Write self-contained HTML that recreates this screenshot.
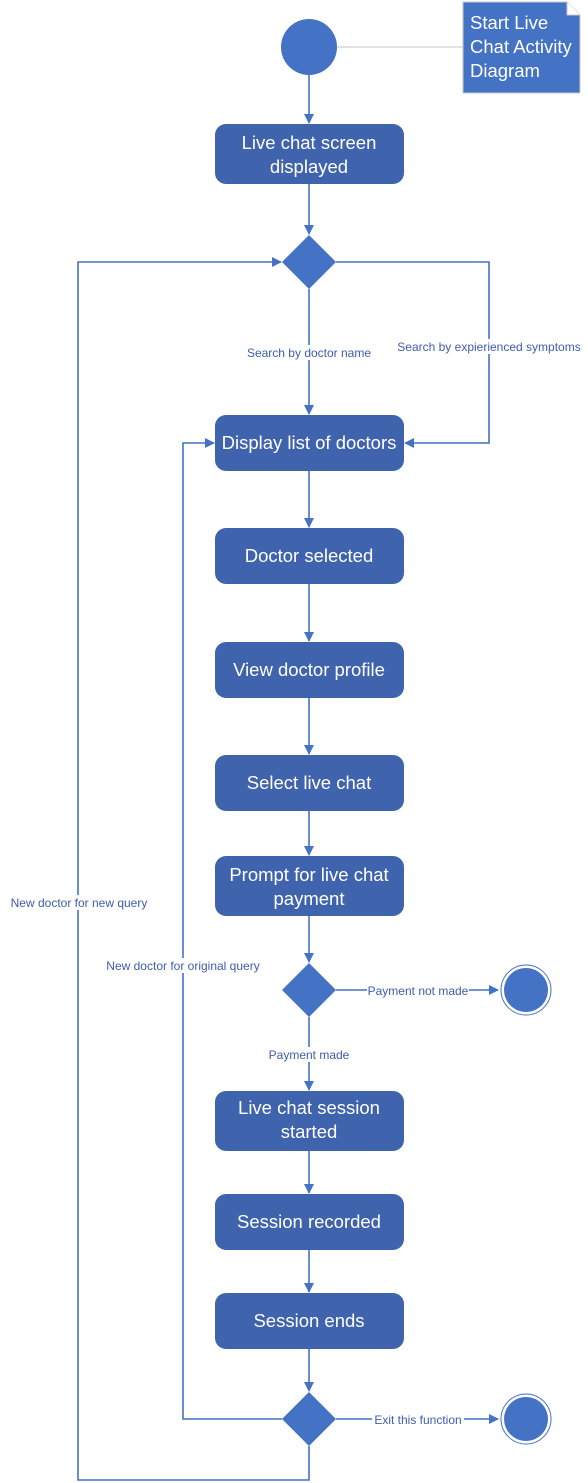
<!DOCTYPE html>
<html><head><meta charset="utf-8"><style>
html,body{margin:0;padding:0;background:#fff;}
svg{display:block;}
.b{fill:#3f63ad;}
.t{font-family:"Liberation Sans",sans-serif;font-size:18.5px;fill:#fff;text-anchor:middle;}
.l{font-family:"Liberation Sans",sans-serif;font-size:12px;fill:#3f5cb0;text-anchor:middle;}
.ln{stroke:#4472c4;stroke-width:1.6;fill:none;}
</style></head><body>
<svg width="588" height="1483" viewBox="0 0 588 1483" xmlns="http://www.w3.org/2000/svg">
<defs><marker id="a" markerWidth="10" markerHeight="10" refX="9" refY="5" orient="auto" markerUnits="userSpaceOnUse"><path d="M0,0 L10,5 L0,10 z" fill="#4472c4"/></marker></defs>
<line x1="337" y1="47" x2="463" y2="47" stroke="#d0d0d0" stroke-width="1.2"/>
<path d="M463,2 L567,2 L580,15 L580,93 L463,93 z" fill="#4472c4" stroke="#c8c8c8"/>
<path d="M567,2 L567,15 L580,15" fill="#fff" stroke="#c8c8c8"/>
<text x="470" y="29" font-family="Liberation Sans,sans-serif" font-size="18.5" fill="#fff">Start Live</text>
<text x="470" y="53" font-family="Liberation Sans,sans-serif" font-size="18.5" fill="#fff">Chat Activity</text>
<text x="470" y="77" font-family="Liberation Sans,sans-serif" font-size="18.5" fill="#fff">Diagram</text>
<circle cx="309" cy="47" r="28" fill="#4472c4"/>
<line class="ln" x1="309" y1="75" x2="309" y2="123" marker-end="url(#a)"/>
<line class="ln" x1="309" y1="184" x2="309" y2="234" marker-end="url(#a)"/>
<line class="ln" x1="309" y1="289" x2="309" y2="414" marker-end="url(#a)"/>
<polyline class="ln" points="336,262 489,262 489,443 405,443" marker-end="url(#a)"/>
<line class="ln" x1="309" y1="471" x2="309" y2="527" marker-end="url(#a)"/>
<line class="ln" x1="309" y1="584" x2="309" y2="641" marker-end="url(#a)"/>
<line class="ln" x1="309" y1="698" x2="309" y2="754" marker-end="url(#a)"/>
<line class="ln" x1="309" y1="811" x2="309" y2="855" marker-end="url(#a)"/>
<line class="ln" x1="309" y1="916" x2="309" y2="962" marker-end="url(#a)"/>
<line class="ln" x1="336" y1="990" x2="498" y2="990" marker-end="url(#a)"/>
<line class="ln" x1="309" y1="1017" x2="309" y2="1090" marker-end="url(#a)"/>
<line class="ln" x1="309" y1="1151" x2="309" y2="1193" marker-end="url(#a)"/>
<line class="ln" x1="309" y1="1250" x2="309" y2="1292" marker-end="url(#a)"/>
<line class="ln" x1="309" y1="1349" x2="309" y2="1391" marker-end="url(#a)"/>
<line class="ln" x1="336" y1="1419" x2="498" y2="1419" marker-end="url(#a)"/>
<polyline class="ln" points="282,1419 183,1419 183,443 214,443" marker-end="url(#a)"/>
<polyline class="ln" points="309,1446 309,1480 78,1480 78,262 281,262" marker-end="url(#a)"/>
<rect class="b" x="215" y="124" width="189" height="60" rx="11"/>
<text class="t" x="309" y="149">Live chat screen</text><text class="t" x="309" y="173">displayed</text>
<rect class="b" x="215" y="415" width="189" height="56" rx="11"/>
<text class="t" x="309" y="449">Display list of doctors</text>
<rect class="b" x="215" y="528" width="189" height="56" rx="11"/>
<text class="t" x="309" y="562">Doctor selected</text>
<rect class="b" x="215" y="642" width="189" height="56" rx="11"/>
<text class="t" x="309" y="676">View doctor profile</text>
<rect class="b" x="215" y="755" width="189" height="56" rx="11"/>
<text class="t" x="309" y="789">Select live chat</text>
<rect class="b" x="215" y="856" width="189" height="60" rx="11"/>
<text class="t" x="309" y="881">Prompt for live chat</text><text class="t" x="309" y="905">payment</text>
<rect class="b" x="215" y="1091" width="189" height="60" rx="11"/>
<text class="t" x="309" y="1114">Live chat session</text><text class="t" x="309" y="1138">started</text>
<rect class="b" x="215" y="1194" width="189" height="56" rx="11"/>
<text class="t" x="309" y="1228">Session recorded</text>
<rect class="b" x="215" y="1293" width="189" height="56" rx="11"/>
<text class="t" x="309" y="1327">Session ends</text>
<path d="M309,235 L336,262 L309,289 L282,262 z" fill="#4472c4"/>
<path d="M309,963 L336,990 L309,1017 L282,990 z" fill="#4472c4"/>
<path d="M309,1392 L336,1419 L309,1446 L282,1419 z" fill="#4472c4"/>
<circle cx="526" cy="990" r="25" fill="#fff" stroke="#4472c4" stroke-width="1"/>
<circle cx="526" cy="990" r="22" fill="#4472c4"/>
<circle cx="526" cy="1419" r="25" fill="#fff" stroke="#4472c4" stroke-width="1"/>
<circle cx="526" cy="1419" r="22" fill="#4472c4"/>
<rect x="246" y="345" width="126" height="15" fill="#fff"/>
<text class="l" x="309" y="357">Search by doctor name</text>
<rect x="396" y="339" width="187" height="15" fill="#fff"/>
<text class="l" x="489" y="351">Search by expierienced symptoms</text>
<rect x="6" y="895" width="146" height="15" fill="#fff"/>
<text class="l" x="79" y="907">New doctor for new query</text>
<rect x="102" y="958" width="162" height="15" fill="#fff"/>
<text class="l" x="183" y="970">New doctor for original query</text>
<rect x="367" y="983" width="102" height="15" fill="#fff"/>
<text class="l" x="418" y="995">Payment not made</text>
<rect x="269" y="1047" width="80" height="15" fill="#fff"/>
<text class="l" x="309" y="1059">Payment made</text>
<rect x="372" y="1412" width="92" height="15" fill="#fff"/>
<text class="l" x="418" y="1424">Exit this function</text>
</svg>
</body></html>
